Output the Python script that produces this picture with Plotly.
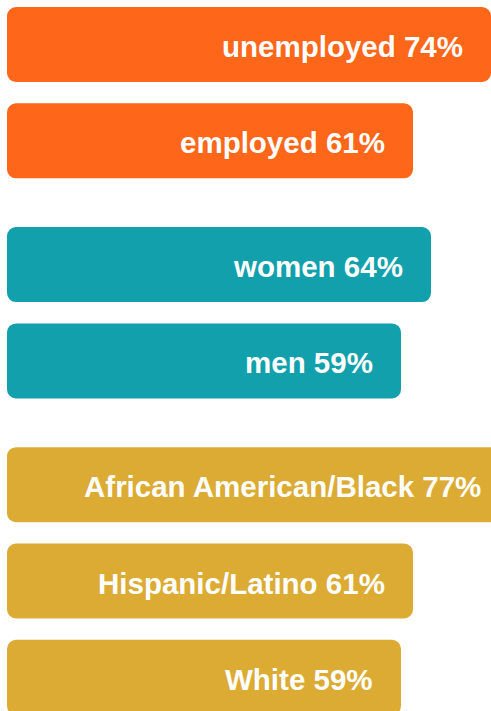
import plotly.graph_objects as go

# ---- data ----
categories = ["unemployed", "employed", "women", "men",
              "African American/Black", "Hispanic/Latino", "White"]
values = [74, 61, 64, 59, 77, 61, 59]
groups = [0, 0, 1, 1, 2, 2, 2]
group_colors = ["#FE661A", "#12A0AC", "#DBAB34"]

# ---- styling / layout constants ----
W, H = 491, 711          # visible window
FIG_W = 540              # figure is wider; the right part falls outside the window
PX_PER_UNIT_X = 6.0
ZERO_PX = 47
BAR_START_PX = 7
PITCH_PX = 96.3
GROUP_GAP = 27.5 / PITCH_PX
BAR_W = 75 / PITCH_PX
RADIUS = 9

x0 = -ZERO_PX / PX_PER_UNIT_X
x1 = x0 + FIG_W / PX_PER_UNIT_X
bar_base = x0 + BAR_START_PX / PX_PER_UNIT_X

ypos = [i + GROUP_GAP * g for i, g in enumerate(groups)]
colors = [group_colors[g] for g in groups]

y_top = -44.5 / PITCH_PX
y_bot = y_top + H / PITCH_PX

fig = go.Figure()
fig.add_trace(go.Bar(
    y=ypos, x=[v - bar_base for v in values], base=[bar_base] * len(values),
    orientation="h", width=BAR_W,
    marker=dict(color=colors, cornerradius=RADIUS, line=dict(width=0)),
    hoverinfo="skip", showlegend=False))

for cat, v, y in zip(categories, values, ypos):
    fig.add_annotation(
        x=v, y=y, xref="x", yref="y", text=f"{cat} {v}%",
        xanchor="right", yanchor="middle", xshift=-26, yshift=-2,
        showarrow=False,
        font=dict(family="Liberation Sans, Arial, sans-serif", size=29.5,
                  color="white", weight="bold"))

fig.update_layout(
    width=FIG_W, height=H,
    margin=dict(l=0, r=0, t=0, b=0),
    paper_bgcolor="white", plot_bgcolor="white",
    xaxis=dict(range=[x0, x1], visible=False, fixedrange=True),
    yaxis=dict(range=[y_bot, y_top], visible=False, fixedrange=True),
)

fig.write_html("out.html", config={"displayModeBar": False},
               post_script="document.body.style.margin='0px';"
                           "document.body.style.overflow='hidden';")
